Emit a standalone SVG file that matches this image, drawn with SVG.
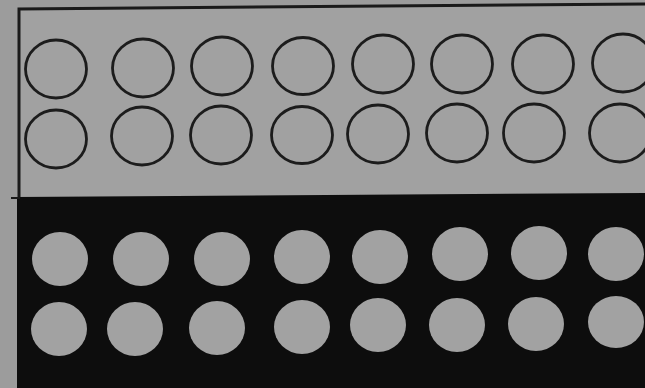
<svg xmlns="http://www.w3.org/2000/svg" width="645" height="388" viewBox="0 0 645 388">
<style>
.ring{fill:none;stroke:#1c1c1c;stroke-width:2.8}
.dot{fill:#a2a2a2}
.frame{fill:none;stroke:#1a1a1a;stroke-width:3}
</style>
<rect x="0" y="0" width="645" height="388" fill="#9c9c9c"/>
<g id="top-panel">
<polygon points="19,9 645,4 645,193 19,197" fill="#a1a1a1"/>
<polyline class="frame" points="645,4 19,9 19,197"/>
</g>
<g id="bottom-panel">
<polygon points="17,197 645,193 645,388 17,388" fill="#0d0d0d"/>
<line x1="11" y1="198" x2="20" y2="198" stroke="#1a1a1a" stroke-width="2"/>
</g>
<g id="open-circles">
<ellipse class="ring" cx="56" cy="69" rx="30.5" ry="29"/>
<ellipse class="ring" cx="143" cy="68" rx="30.5" ry="29"/>
<ellipse class="ring" cx="222" cy="66" rx="30.5" ry="29"/>
<ellipse class="ring" cx="303" cy="66" rx="30.5" ry="28.5"/>
<ellipse class="ring" cx="383" cy="64" rx="30.5" ry="29"/>
<ellipse class="ring" cx="462" cy="64" rx="30.5" ry="29"/>
<ellipse class="ring" cx="543" cy="64" rx="30.5" ry="29"/>
<ellipse class="ring" cx="623" cy="63" rx="30.5" ry="29"/>
<ellipse class="ring" cx="56" cy="139" rx="30.5" ry="29"/>
<ellipse class="ring" cx="142" cy="136" rx="30.5" ry="29"/>
<ellipse class="ring" cx="221" cy="135" rx="30.5" ry="29"/>
<ellipse class="ring" cx="302" cy="135" rx="30.5" ry="28.5"/>
<ellipse class="ring" cx="378" cy="134" rx="30.5" ry="29"/>
<ellipse class="ring" cx="457" cy="133" rx="30.5" ry="29"/>
<ellipse class="ring" cx="534" cy="133" rx="30.5" ry="29"/>
<ellipse class="ring" cx="620" cy="133" rx="30.5" ry="29"/>
</g>
<g id="filled-circles">
<ellipse class="dot" cx="60" cy="259" rx="28" ry="27"/>
<ellipse class="dot" cx="141" cy="259" rx="28" ry="27"/>
<ellipse class="dot" cx="222" cy="259" rx="28" ry="27"/>
<ellipse class="dot" cx="302" cy="257" rx="28" ry="27"/>
<ellipse class="dot" cx="380" cy="257" rx="28" ry="27"/>
<ellipse class="dot" cx="460" cy="254" rx="28" ry="27"/>
<ellipse class="dot" cx="539" cy="253" rx="28" ry="27"/>
<ellipse class="dot" cx="616" cy="254" rx="28" ry="27"/>
<ellipse class="dot" cx="59" cy="329" rx="28" ry="27"/>
<ellipse class="dot" cx="135" cy="329" rx="28" ry="27"/>
<ellipse class="dot" cx="217" cy="328" rx="28" ry="27"/>
<ellipse class="dot" cx="302" cy="327" rx="28" ry="27"/>
<ellipse class="dot" cx="378" cy="325" rx="28" ry="27"/>
<ellipse class="dot" cx="457" cy="325" rx="28" ry="27"/>
<ellipse class="dot" cx="536" cy="324" rx="28" ry="27"/>
<ellipse class="dot" cx="616" cy="322" rx="28" ry="26"/>
</g>
<g id="connectors"></g>
</svg>
